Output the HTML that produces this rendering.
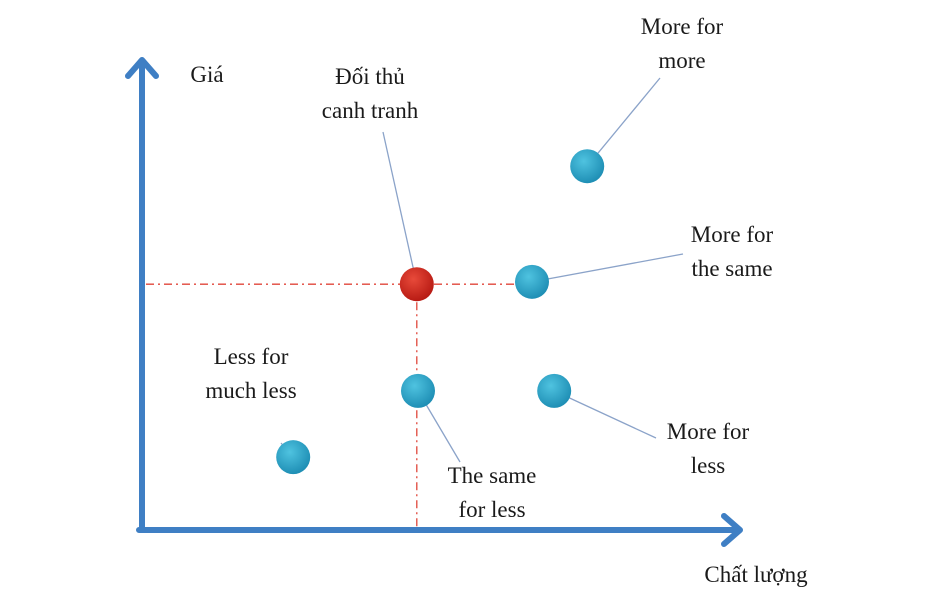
<!DOCTYPE html>
<html><head><meta charset="utf-8"><style>
body{margin:0;background:#fff}
svg{display:block}
text{font-family:"Liberation Serif",serif;font-size:23px;fill:#1a1a1a}
</style></head><body>
<svg id="c" width="945" height="600">
<defs>
<radialGradient id="gb" cx="40%" cy="35%" r="65%"><stop offset="0" stop-color="#4fc3e0"/><stop offset="1" stop-color="#1f8fb5"/></radialGradient>
<radialGradient id="gr" cx="40%" cy="35%" r="65%"><stop offset="0" stop-color="#e84a3a"/><stop offset="1" stop-color="#b81b14"/></radialGradient>
</defs>
</svg>
<script>
const names=["Đối thủ canh tranh","More for more","More for the same","Less for much less","The same for less","More for less"];
const quality=[45.8,74.2,65,25.2,46,68.7];
const price=[52.3,77.4,52.8,15.5,29.6,29.6];
const svg=document.getElementById('c');
const NS='http://www.w3.org/2000/svg';
const X0=142,Y0=530;
const sx=v=>X0+v*6, sy=v=>Y0-v*4.7;
function mk(t,a,p){const e=document.createElementNS(NS,t);for(const k in a)e.setAttribute(k,a[k]);(p||svg).appendChild(e);return e;}
// axes
let ya=mk('path',{d:`M${X0} ${Y0} L${X0} 60 M128 76 L${X0} 60 L156 76`,stroke:'#3f7fc4','stroke-width':6,fill:'none','stroke-linecap':'round','stroke-linejoin':'round'});


let xa=mk('path',{d:`M${X0-3} ${Y0} L740 ${Y0} M724 516 L740 ${Y0} L724 544`,stroke:'#3f7fc4','stroke-width':6,fill:'none','stroke-linecap':'round','stroke-linejoin':'round'});


// reference lines from competitor
const rx=sx(quality[0]), ry=sy(price[0]);
let rl=mk('path',{d:`M${X0+4} ${ry} L${sx(quality[2])} ${ry} M${rx} ${ry} L${rx} ${Y0-3}`,stroke:'#e0463a','stroke-width':1.3,fill:'none','stroke-dasharray':'8 4 2 4'});


// labels
const labelPos=[[370,84,"Đối thủ","canh tranh",[383,132]],[682,34,"More for","more",[660,78]],[732,242,"More for","the same",[683,254]],[251,364,"Less for","much less",[281,443]],[492,483,"The same","for less",[460,462]],[708,439,"More for","less",[656,438]]];
function t(x,y,s,n){const e=mk('text',{x:x,y:y,'text-anchor':'middle'});e.textContent=s;}
t(207,82,"Giá","y-axis-title");
t(756,582,"Chất lượng","x-axis-title");
for(let i=0;i<names.length;i++){
  const [lx,ly,a,b,[ex,ey]]=labelPos[i];
  const l=mk('line',{x1:ex,y1:ey,x2:sx(quality[i]),y2:sy(price[i]),stroke:'#8ba3c9','stroke-width':1.3});
  
  
  t(lx,ly,a,'point-label');
  t(lx,ly+34,b,'point-label');
}
for(let i=0;i<names.length;i++){
  const c=mk('circle',{cx:sx(quality[i]),cy:sy(price[i]),r:17,fill:i==0?'url(#gr)':'url(#gb)'});
  
  
}
</script>
</body></html>
